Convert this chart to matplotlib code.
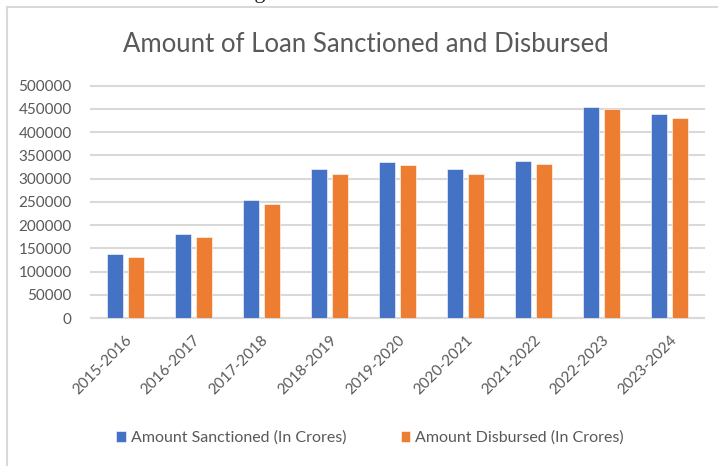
import numpy as np
import matplotlib
matplotlib.use("Agg")
import matplotlib.pyplot as plt
from matplotlib.lines import Line2D

years = ["2015-2016", "2016-2017", "2017-2018", "2018-2019", "2019-2020",
         "2020-2021", "2021-2022", "2022-2023", "2023-2024"]
sanctioned = [137000, 181000, 254000, 320000, 335000, 320000, 338000, 455000, 440000]
disbursed = [132000, 175000, 246000, 311000, 329000, 311000, 331000, 449000, 431000]
yticks = [0, 50000, 100000, 150000, 200000, 250000, 300000, 350000, 400000, 450000, 500000]

W, H = 718, 466
txt = "#595959"
plt.rcParams["font.family"] = ["Lato", "DejaVu Sans"]

fig = plt.figure(figsize=(W / 100, H / 100), dpi=100)

# plot area in pixels: x 91..704, y 85.7 (top) .. 318 (zero line)
left, right, top, base = 91, 704, 85.7, 318
ax = fig.add_axes([left / W, (H - base) / H, (right - left) / W, (base - top) / H])

x = np.arange(len(years))
w = 0.235
off = 0.154
ax.bar(x - off, sanctioned, w, color="#4472C4", edgecolor="white", linewidth=0.4,
       label="Amount Sanctioned (In Crores)", zorder=3)
ax.bar(x + off, disbursed, w, color="#ED7D31", edgecolor="white", linewidth=0.4,
       label="Amount Disbursed (In Crores)", zorder=3)

ax.set_xlim(-0.5, len(years) - 0.5)
ax.set_ylim(0, 500000)
ax.set_yticks(yticks)
ax.set_yticklabels([str(v) for v in yticks])
ax.set_xticks(x)
ax.set_xticklabels(years, rotation=45, ha="right", va="top", rotation_mode="anchor")

ax.grid(axis="y", color="#d9d9d9", linewidth=1.5, zorder=0)
for gl in ax.yaxis.get_gridlines():
    gl.set_clip_on(False)
for s in ["top", "right", "left"]:
    ax.spines[s].set_visible(False)
ax.spines["bottom"].set_color("#d9d9d9")
ax.spines["bottom"].set_linewidth(1.5)
ax.tick_params(axis="both", length=0, colors=txt, labelsize=11)
ax.tick_params(axis="y", pad=14)
ax.tick_params(axis="x", pad=11)

fig.text(366 / W, 1 - 44 / H, "Amount of Loan Sanctioned and Disbursed",
         ha="center", va="center", fontsize=18.5, color=txt)

leg = fig.legend(loc="center", bbox_to_anchor=(370 / W, 1 - 438 / H), ncol=2,
                 frameon=False, fontsize=11.5, handlelength=0.6, handleheight=0.6,
                 handletextpad=0.3, columnspacing=3.4)
for t in leg.get_texts():
    t.set_color(txt)

# chart frame (left and top edges)
fig.add_artist(Line2D([7 / W, 7 / W], [0, 1 - 7 / H], transform=fig.transFigure,
                      color="#d9d9d9", linewidth=1.5))
fig.add_artist(Line2D([7 / W, 1], [1 - 7 / H, 1 - 7 / H], transform=fig.transFigure,
                      color="#d9d9d9", linewidth=1.5))

# source note above the frame, mostly outside the canvas
fig.text(48 / W, 1 + 2 / H, "Source: www.mudra.org.in", ha="left", va="baseline",
         fontsize=16, family="Liberation Serif", color="#222222")

fig.savefig("out.png", dpi=100)
